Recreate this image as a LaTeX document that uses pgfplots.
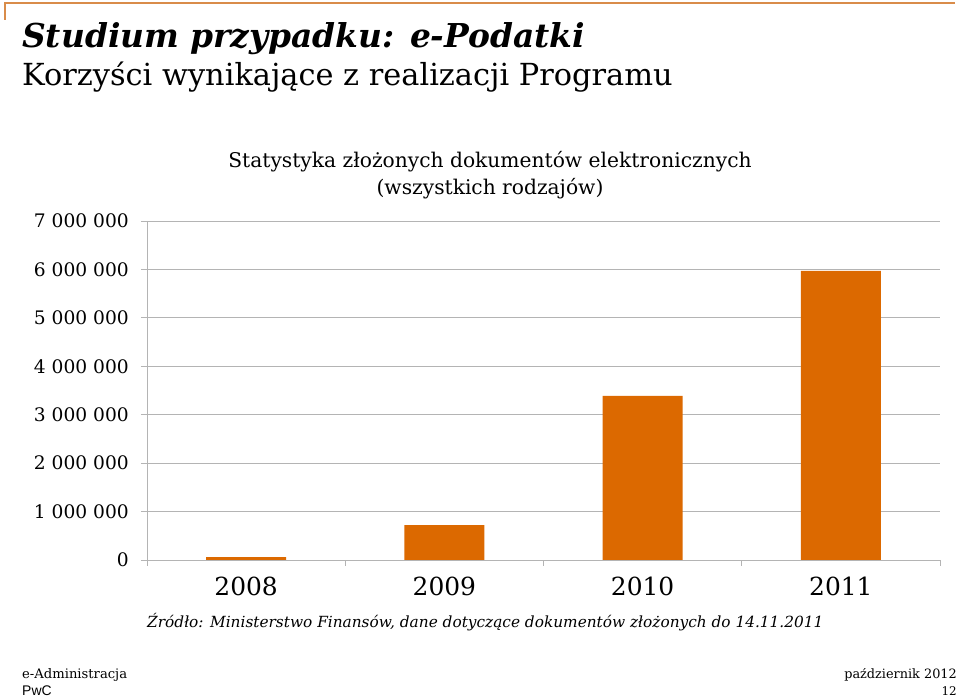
\documentclass[border=0pt]{standalone}
\usepackage{pgfplots}
\pgfplotsset{compat=1.18}
\usepackage{fontspec}
\setmainfont{DejaVu Serif}
\newfontfamily\pwcsans{Liberation Sans}
\definecolor{barorange}{HTML}{DC6900}
\definecolor{lineorange}{HTML}{D98C4A}
\definecolor{gridgray}{HTML}{B4B4B4}
\begin{document}
\begin{tikzpicture}
\path (0bp,0bp) rectangle (960bp,697bp);
% top decoration
\draw[lineorange, line width=1.5bp] (5bp,677bp) -- (5bp,694bp) -- (955bp,694bp);
% titles
\node[anchor=base west, inner sep=0] at (22bp,649bp) {\fontsize{33}{38}\selectfont\bfseries\itshape Studium przypadku: e-Podatki};
\node[anchor=base west, inner sep=0] at (22bp,611bp) {\fontsize{30.5}{36}\selectfont Korzyści wynikające z realizacji Programu};
\node[anchor=base, inner sep=0] at (490bp,529bp) {\fontsize{20.3}{24}\selectfont Statystyka złożonych dokumentów elektronicznych};
\node[anchor=base, inner sep=0] at (490bp,502bp) {\fontsize{20.3}{24}\selectfont (wszystkich rodzajów)};
\begin{axis}[
  at={(147bp,137bp)}, anchor=south west,
  scale only axis, width=793bp, height=339bp,
  xmin=-0.5, xmax=3.5, ymin=0, ymax=7000000,
  scaled y ticks=false,
  axis x line*=bottom, axis y line*=left,
  axis line style={draw=gridgray, line width=0.8bp},
  xtick={-0.5,0.5,1.5,2.5,3.5},
  xticklabels={2008,2009,2010,2011},
  x tick label as interval,
  ytick={0,1000000,2000000,3000000,4000000,5000000,6000000,7000000},
  yticklabels={0,1 000 000,2 000 000,3 000 000,4 000 000,5 000 000,6 000 000,7 000 000},
  tick align=outside, major tick length=6bp,
  tick style={draw=gridgray, line width=0.8bp},
  ymajorgrids, grid style={draw=gridgray, line width=0.8bp},
  yticklabel style={font=\fontsize{18.7}{22}\selectfont, inner sep=0pt, xshift=-12bp},
  xticklabel style={font=\fontsize{25}{30}\selectfont, yshift=-7bp},
  ybar, bar width=80bp,
]
\addplot[fill=barorange, draw=none] coordinates {(0,60000) (1,720000) (2,3390000) (3,5970000)};
\end{axis}
% source
\node[anchor=base west, inner sep=0] at (147bp,69bp) {\fontsize{15.4}{18}\selectfont\itshape Źródło: Ministerstwo Finansów, dane dotyczące dokumentów złożonych do 14.11.2011};
% footer
\node[anchor=base west, inner sep=0] at (22bp,19bp) {\fontsize{13.2}{16}\selectfont e-Administracja};
\node[anchor=base west, inner sep=0] at (22bp,2bp) {\fontsize{14}{16}\selectfont\pwcsans PwC};
\node[anchor=base east, inner sep=0] at (957bp,19bp) {\fontsize{12.9}{16}\selectfont październik 2012};
\node[anchor=base east, inner sep=0] at (957bp,2bp) {\fontsize{12}{14}\selectfont 12};
\end{tikzpicture}
\end{document}
